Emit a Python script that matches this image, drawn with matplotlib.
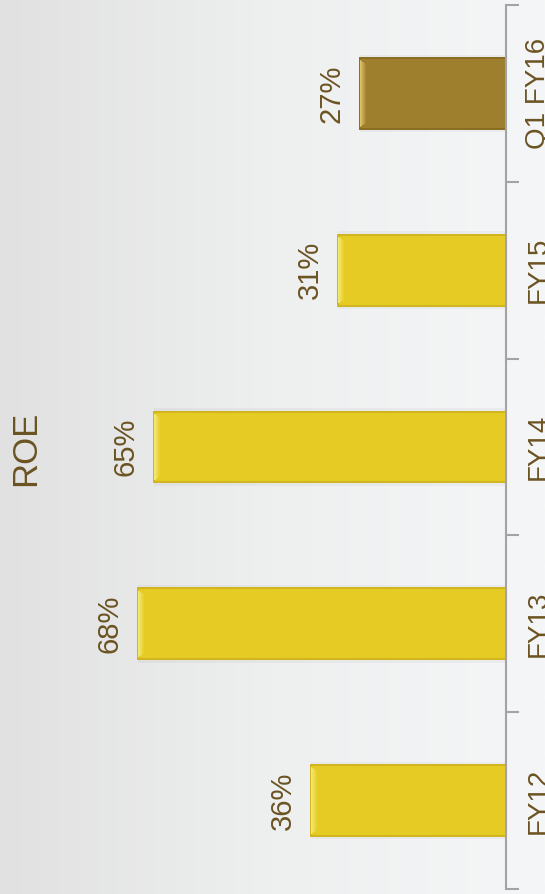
import matplotlib
matplotlib.use("Agg")
import matplotlib.pyplot as plt
import numpy as np
from matplotlib.colors import LinearSegmentedColormap, to_rgb

categories = ["FY12", "FY13", "FY14", "FY15", "Q1 FY16"]
roe = [36, 68, 65, 31, 27]
value_labels = ["36%", "68%", "65%", "31%", "27%"]
title = "ROE"

bar_colors = ["#E6CB24", "#E6CB24", "#E6CB24", "#E6CB24", "#9E7F2E"]
edge_colors = ["#D2B41E", "#D2B41E", "#D2B41E", "#D2B41E", "#8A6C22"]
glow_colors = ["#F3E96E", "#F3E96E", "#F3E96E", "#F3E96E", "#E0C066"]
text_color = "#6B5322"

plt.rcParams["font.family"] = ["Liberation Sans", "DejaVu Sans"]

fig = plt.figure(figsize=(5.45, 8.94), dpi=100)

# soft horizontal background gradient
bg = fig.add_axes([0, 0, 1, 1], zorder=0)
grad = np.linspace(0, 1, 256)[None, :]
cmap = LinearSegmentedColormap.from_list("bg", ["#E1E1E1", "#EEEFEF", "#F5F6F7"])
bg.imshow(grad, aspect="auto", cmap=cmap, extent=[0, 1, 0, 1])
bg.set_axis_off()

ax = fig.add_axes([0, 5 / 894, 506 / 545, 884 / 894], zorder=1)
ax.patch.set_alpha(0)

y = np.arange(len(categories))
h = 0.4
px = 1 / 5.41  # data units per pixel along the value axis

# faint drop shadow
ax.barh(y, roe, height=h + 0.04, color="#000000", alpha=0.035, zorder=1)
# main bars
ax.barh(y, roe, height=h, color=bar_colors, edgecolor=edge_colors,
        linewidth=1.4, zorder=2)

# bevelled highlight at the outer end of each bar, fading into the face
n_steps = 7
for k in range(n_steps):
    t = k / (n_steps - 1)
    cols = []
    for g, b in zip(glow_colors, bar_colors):
        cg, cb = np.array(to_rgb(g)), np.array(to_rgb(b))
        cols.append(tuple(cg * (1 - t) + cb * t))
    inset = 0.012 + 0.004 * k
    ax.barh(y, [px * 1.05] * len(roe), left=[v - (k + 1) * px for v in roe],
            height=h - 2 * inset, color=cols, linewidth=0, zorder=3)

for yi, v, lab in zip(y, roe, value_labels):
    ax.annotate(lab, xy=(v, yi), xytext=(-10.5, 0), textcoords="offset points",
                rotation=90, ha="right", va="center", fontsize=21,
                color=text_color)

ax.set_xlim(93.5, 0)
ax.set_ylim(-0.5, len(categories) - 0.5)

for s in ["left", "top", "bottom"]:
    ax.spines[s].set_visible(False)
ax.spines["right"].set_color("#A3A3A3")
ax.spines["right"].set_linewidth(1.5)
ax.set_xticks([])

ax.yaxis.tick_right()
ax.set_yticks(y)
ax.set_yticklabels(categories)
ax.set_yticks(np.arange(-0.5, len(categories)), minor=True)
ax.tick_params(axis="y", which="major", length=0, pad=14, labelsize=20,
               labelcolor=text_color, labelrotation=90)
ax.tick_params(axis="y", which="minor", length=9, width=1.5, color="#A3A3A3",
               direction="out")
for t in ax.get_yticklabels():
    t.set_va("center")
    t.set_ha("left")

fig.text(26 / 545, 1 - 448 / 894, title, rotation=90, ha="center", va="center",
         fontsize=25, color=text_color)

fig.savefig("out.png", dpi=100)
